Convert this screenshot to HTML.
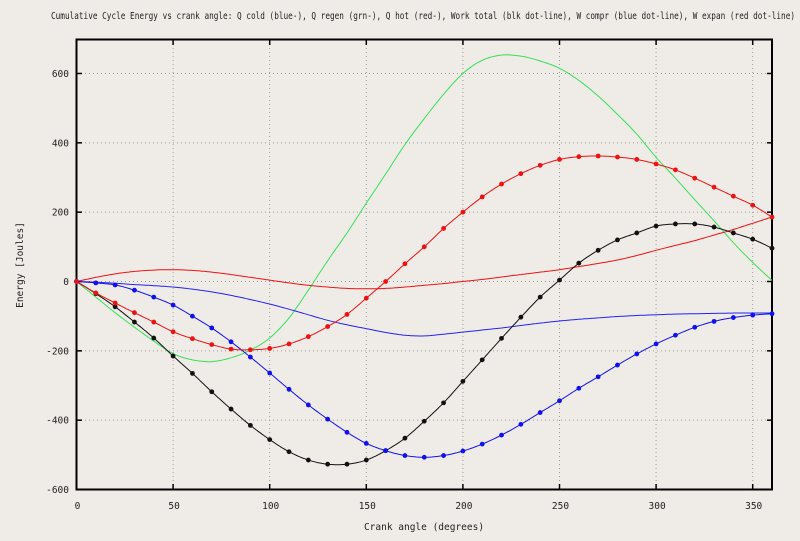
<!DOCTYPE html>
<html><head><meta charset="utf-8"><style>
html,body{margin:0;padding:0;background:#efece8;}
svg{display:block;}
text{font-family:"DejaVu Sans Mono","Liberation Mono",monospace;fill:#222;}
</style></head><body>
<svg id="s" width="800" height="541" xmlns="http://www.w3.org/2000/svg">
<rect width="800" height="541" fill="#efece8"/>
<text x="51" y="19" font-size="9.5" textLength="744" lengthAdjust="spacingAndGlyphs">Cumulative Cycle Energy vs crank angle: Q cold (blue-), Q regen (grn-), Q hot (red-), Work total (blk dot-line), W compr (blue dot-line), W expan (red dot-line)</text>
<text x="0" y="0" font-size="9.5" transform="translate(23,265) rotate(-90)" text-anchor="middle">Energy [Joules]</text>
<text x="424" y="530" font-size="9.5" text-anchor="middle">Crank angle (degrees)</text>
<g id="g"></g>
</svg>
<script>
var X0=76.5,XS=1.932,Y0=281.5,YS=0.3467;
function px(a){return X0+a*XS;}function py(v){return Y0-v*YS;}
var g=document.getElementById('g'),h='';
for(var v=-600;v<=600;v+=200){var y=py(v);
 if(v>-600)h+='<line x1="77" x2="772" y1="'+y+'" y2="'+y+'" stroke="#999" stroke-width="1" stroke-dasharray="1,3"/>';
 h+='<line x1="77" x2="82" y1="'+y+'" y2="'+y+'" stroke="#000" stroke-width="1.5"/><line x1="767" x2="772" y1="'+y+'" y2="'+y+'" stroke="#000" stroke-width="1.5"/>';
 h+='<text x="69" y="'+(y+3.5)+'" font-size="9.5" text-anchor="end">'+v+'</text>';}
for(var a=0;a<=350;a+=50){var x=px(a);
 if(a>0)h+='<line x1="'+x+'" x2="'+x+'" y1="40" y2="489" stroke="#999" stroke-width="1" stroke-dasharray="1,3"/>';
 h+='<line x1="'+x+'" x2="'+x+'" y1="40" y2="45" stroke="#000" stroke-width="1.5"/><line x1="'+x+'" x2="'+x+'" y1="484" y2="489" stroke="#000" stroke-width="1.5"/>';
 h+='<text x="'+(x+1)+'" y="509" font-size="9.5" text-anchor="middle">'+a+'</text>';}
h+='<rect x="76.5" y="39.5" width="695.5" height="450" fill="none" stroke="#000" stroke-width="2"/>';
function cr(d){var pts=[];for(var i=0;i<d.length;i++)pts.push([px(i*10),py(d[i])]);
 var out=[];for(var i=0;i<pts.length-1;i++){var p0=pts[Math.max(0,i-1)],p1=pts[i],p2=pts[i+1],p3=pts[Math.min(pts.length-1,i+2)];
 for(var t=0;t<1;t+=0.1){var t2=t*t,t3=t2*t;
 var x=0.5*((2*p1[0])+(-p0[0]+p2[0])*t+(2*p0[0]-5*p1[0]+4*p2[0]-p3[0])*t2+(-p0[0]+3*p1[0]-3*p2[0]+p3[0])*t3);
 var y=0.5*((2*p1[1])+(-p0[1]+p2[1])*t+(2*p0[1]-5*p1[1]+4*p2[1]-p3[1])*t2+(-p0[1]+3*p1[1]-3*p2[1]+p3[1])*t3);
 out.push(x.toFixed(1)+','+y.toFixed(1));}}
 out.push(pts[pts.length-1][0].toFixed(1)+','+pts[pts.length-1][1].toFixed(1));return [out.join(' '),pts];}
function line(d,c,mk){var r=cr(d);h+='<polyline points="'+r[0]+'" fill="none" stroke="'+c+'" stroke-width="1"/>';
 if(mk)r[1].forEach(function(p){h+='<circle cx="'+p[0]+'" cy="'+p[1]+'" r="2.4" fill="'+c+'"/>';});}
var green=[0,-45,-90,-132,-172,-208,-226,-231,-220,-198,-163,-105,-25,60,140,226,310,395,470,540,600,638,653,650,636,615,580,535,482,425,358,298,236,175,112,55,3];
var redl=[0,12,22,29,33,34,32,27,20,12,4,-4,-11,-16,-20,-21,-20,-16,-11,-6,0,6,13,20,27,34,43,52,62,75,90,104,118,134,150,168,186];
var bluel=[0,-2,-5,-9,-12,-16,-22,-30,-40,-52,-65,-80,-96,-112,-125,-136,-147,-155,-157,-152,-146,-140,-134,-127,-120,-114,-109,-105,-101,-98,-96,-94,-93,-92,-91,-91,-91];
var blk=[0,-35,-73,-117,-163,-215,-265,-318,-368,-415,-456,-491,-515,-527,-527,-515,-488,-452,-403,-350,-288,-226,-164,-103,-45,4,53,90,120,140,160,166,166,157,140,122,96];
var bld=[0,-4,-10,-25,-45,-68,-100,-134,-174,-218,-264,-311,-356,-397,-435,-467,-488,-502,-507,-502,-489,-469,-443,-412,-378,-344,-308,-275,-241,-209,-180,-155,-132,-115,-104,-97,-93];
var rdd=[0,-33,-62,-90,-117,-145,-165,-182,-195,-197,-193,-180,-159,-130,-95,-48,0,51,100,153,200,244,281,311,335,352,360,362,359,352,339,322,298,272,246,220,186];
line(green,'#33e055',false);line(redl,'#ee1111',false);line(bluel,'#2222ee',false);
line(blk,'#111',true);line(bld,'#1111ee',true);line(rdd,'#ee1111',true);
g.innerHTML=h;
</script>
</body></html>
